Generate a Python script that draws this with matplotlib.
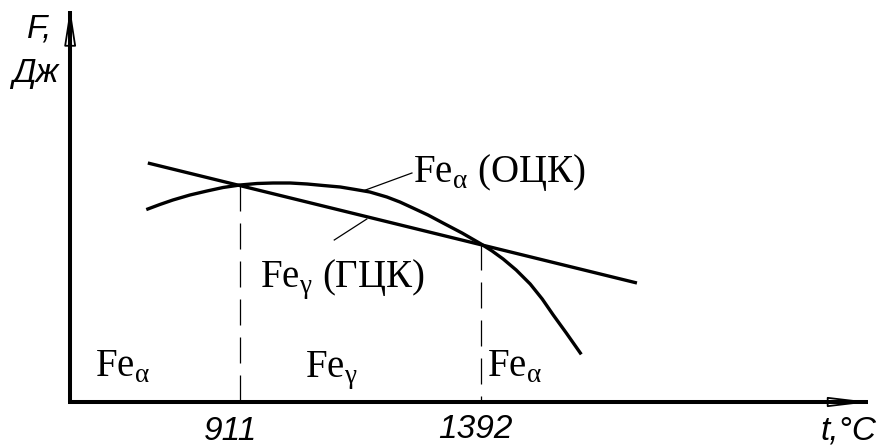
import matplotlib.pyplot as plt

plt.rcParams['mathtext.fontset'] = 'custom'
plt.rcParams['mathtext.rm'] = 'Liberation Serif'

# free energy curves (schematic)
t_alpha = [727, 751, 777, 811, 845, 877, 911, 945, 977, 1011, 1045, 1077, 1111, 1141, 1170,
           1204, 1230, 1256, 1286, 1316, 1354, 1392, 1414, 1436, 1462, 1490, 1514, 1536, 1562, 1590]
f_alpha = [193, 197.5, 202, 207, 211, 214.5, 217, 218.5, 219, 219, 218, 216.5, 215, 212.5, 210,
           205, 200, 194, 187, 179, 169, 158, 151, 143, 132, 118, 103, 87, 69, 49]
t_gamma = [727, 1703]
f_gamma = [239, 119]

t_points = [911, 1392]
f_points = [217, 158]
tick_labels = ['911', '1392']

t0, t_end = 572, 2168
f_top = 394

fig = plt.figure(figsize=(8.8, 4.48), dpi=100)
ax = fig.add_axes([0, 0, 1, 1])
ax.set_xlim(432, 2188)
ax.set_ylim(-46, 402)
ax.axis('off')

lw_main = 2.4

ax.plot(t_alpha, f_alpha, color='k', lw=lw_main, solid_joinstyle='round')
ax.plot(t_gamma, f_gamma, color='k', lw=lw_main, solid_capstyle='butt')

# dashed drops at the transition temperatures
for t, f in zip(t_points, f_points):
    ax.plot([t, t], [f, 0], color='k', lw=0.9, dashes=(20.8, 9.6))

# axes with hollow arrow heads
ax.plot([t0 - 4, t_end - 4], [0, 0], color='k', lw=2.9, solid_capstyle='butt')
ax.plot([t0, t0], [0, f_top - 3], color='k', lw=2.9, solid_capstyle='butt')
ax.annotate('', xy=(t_end, 0), xytext=(t_end - 70, 0),
            arrowprops=dict(arrowstyle='-|>,head_length=2.5,head_width=0.3',
                            fc='none', ec='k', lw=1.3, mutation_scale=10, shrinkA=0, shrinkB=0))
ax.annotate('', xy=(t0, f_top), xytext=(t0, f_top - 32),
            arrowprops=dict(arrowstyle='-|>,head_length=2.3,head_width=0.36',
                            fc='none', ec='k', lw=1.3, mutation_scale=10, shrinkA=0, shrinkB=0))

serif = dict(family='Liberation Serif', fontsize=28, va='baseline')
ax.text(1256, 220, r'Fe$_{\mathrm{α}}$ (ОЦК)', **serif)
ax.text(951, 115, r'Fe$_{\mathrm{γ}}$ (ГЦК)', **serif)
ax.text(622, 25, r'Fe$_{\mathrm{α}}$', **serif)
ax.text(1041, 25, r'Fe$_{\mathrm{γ}}$', **serif)
ax.text(1404, 25, r'Fe$_{\mathrm{α}}$', **serif)

# leader lines to the curve labels
ax.plot([1156, 1254], [211, 229], color='k', lw=0.9)
ax.plot([1164, 1099], [183, 162], color='k', lw=0.9)

sans = dict(family=['Liberation Sans Narrow', 'Liberation Sans'], style='italic',
            fontsize=24, va='baseline')
ax.text(893, -38, tick_labels[0], ha='center', **sans)
ax.text(1380, -36, tick_labels[1], ha='center', **sans)
ax.text(2070, -37, 't,°C', **sans)
ax.text(486, 365, 'F,', **sans)
ax.text(456, 320, 'Дж', **sans)

fig.savefig('out.png', dpi=100)
